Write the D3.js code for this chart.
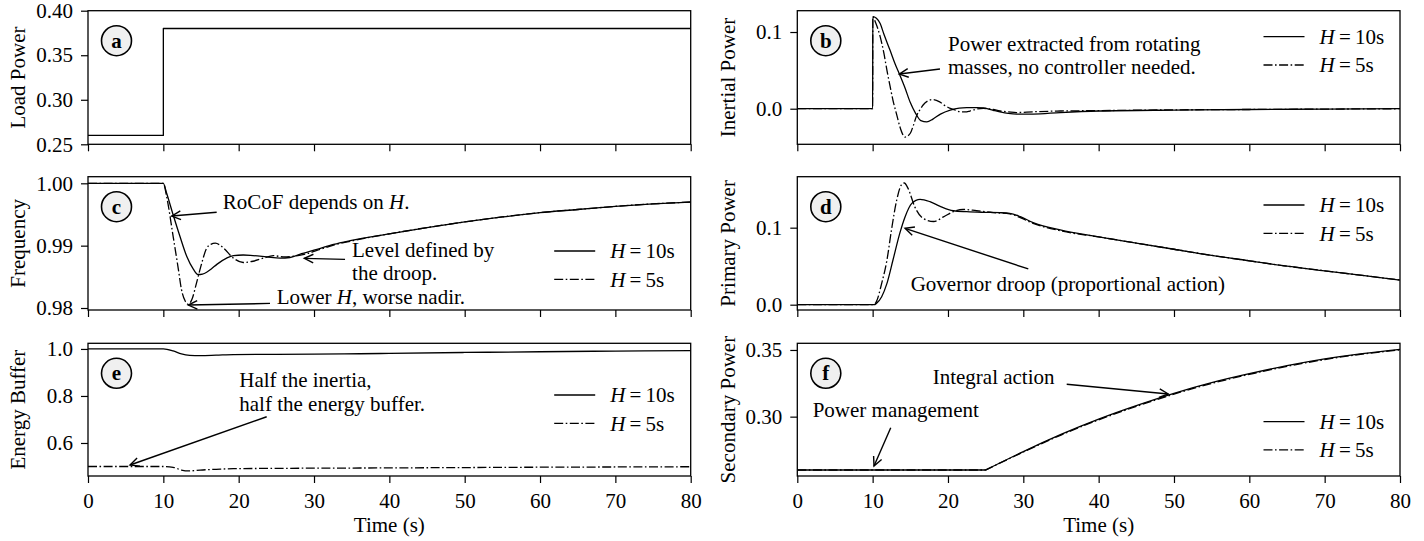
<!DOCTYPE html>
<html><head><meta charset="utf-8">
<script src="https://cdn.jsdelivr.net/npm/d3@7"></script>
<style>body{margin:0;background:#fff;}</style></head><body>
<svg id="chart" width="1424" height="541"></svg>
<script>
// ---------------- DATA ----------------
const timeTicks = [0,10,20,30,40,50,60,70,80];
const seriesNames = ["H=10s","H=5s"];

// (a) Load power
const loadT = [0,10,10,80];
const loadP = [0.26,0.26,0.38,0.38];
const loadTicks = [0.25,0.30,0.35,0.40];

// (b) Inertial power
const inertT10 = [0,10,10.02,10.5,11,11.5,12.3,13,13.6,14.3,15,15.7,16.4,17.2,18,19,20.3,21.5,22.5,23.8,24.7,26,26.9,28,29.1,31.3,34.9,40,50,60,70,80];
const inertP10 = [0,0,0.120,0.118,0.111,0.097,0.0765,0.058,0.044,0.027,0.008,-0.006,-0.0155,-0.0172,-0.0135,-0.007,-0.0017,0.0008,0.0013,0.0014,0.001,-0.002,-0.004,-0.006,-0.007,-0.007,-0.005,-0.003,-0.0018,-0.001,-0.0005,0];
const inertT5 = [0,10,10.02,10.4,11,11.5,11.9,12.3,12.7,13.2,13.6,14.3,15,15.4,15.8,16.3,16.7,17.3,18,18.9,19.6,20.3,21,21.6,22.3,22.9,23.8,24.7,26,26.9,28,29.1,31.3,34.9,40,50,60,70,80];
const inertP5 = [0,0,0.12,0.112,0.094,0.072,0.05,0.030,0.011,-0.008,-0.023,-0.037,-0.032,-0.022,-0.010,-0.001,0.0048,0.010,0.012,0.009,0.004,0.0004,-0.002,-0.004,-0.0042,-0.003,-0.0005,0.0004,-0.001,-0.003,-0.004,-0.005,-0.004,-0.003,-0.0025,-0.0015,-0.001,-0.0005,0];
const inertTicks = [0.0,0.1];

// (c) Frequency
const freqT10 = [0,10,10.44,11.3,12.2,13.1,14.0,14.6,15.2,15.75,16.4,17.1,18.4,19.3,20.6,21.9,23.7,25.5,26.8,28.1,30.4,32.6,34.8,40,45,50,55,60,65,70,75,80];
const freqF10 = [1,1,0.9984,0.99495,0.9915,0.9883,0.9862,0.98537,0.98545,0.98574,0.9863,0.987,0.988,0.9884,0.9885,0.9884,0.9882,0.988,0.9881,0.9886,0.9894,0.9902,0.9908,0.9919,0.9929,0.9938,0.9946,0.9953,0.9958,0.9963,0.9967,0.9970];
const freqT5 = [0,10,10.44,11.3,12.0,12.4,12.9,13.3,13.8,14.4,15.1,15.75,16.3,16.9,17.5,18.0,19.3,20.6,21.9,23.3,24.6,25.9,27.3,29.0,30.8,32.6,34.8,40,45,50,55,60,65,70,75,80];
const freqF5 = [1,1,0.99787,0.9915,0.98617,0.9830,0.98112,0.98059,0.9814,0.9840,0.9872,0.9896,0.9902,0.9904,0.9901,0.9896,0.9880,0.9873,0.9875,0.9880,0.9884,0.9882,0.9883,0.9887,0.9894,0.9901,0.9907,0.9919,0.9929,0.9938,0.9946,0.9953,0.9958,0.9963,0.9967,0.9970];
const freqTicks = [0.98,0.99,1.00];

// (d) Primary power
const primT10 = [0,10.2,10.5,11.2,11.9,12.7,13.6,14.3,15.2,16.3,17.6,18.9,20.7,22.5,24.7,26.9,28.2,29.6,31.3,34.9,40,45,50,55,60,65,70,75,80];
const primP10 = [0,0,0.0017,0.0104,0.0277,0.058,0.0926,0.114,0.1316,0.1368,0.1338,0.128,0.122,0.1208,0.12,0.1195,0.1186,0.1143,0.1065,0.097,0.088,0.080,0.072,0.064,0.057,0.050,0.044,0.038,0.032];
const primT5 = [0,10.1,10.5,11.2,11.9,12.5,13.2,13.8,14.2,14.7,15.6,16.7,18.1,19.4,20.7,22.0,23.8,26.0,28.2,29.6,31.3,34.9,40,45,50,55,60,65,70,75,80];
const primP5 = [0,0,0.004,0.0277,0.058,0.097,0.136,0.1554,0.158,0.151,0.127,0.112,0.108,0.114,0.1208,0.1238,0.122,0.1195,0.118,0.113,0.1056,0.096,0.088,0.080,0.072,0.064,0.057,0.050,0.044,0.038,0.032];
const primTicks = [0.0,0.1];

// (e) Energy buffer
const energyT10 = [0,10,11.3,12.4,13.5,14.9,17,19.3,25,30,36.1,40,50,60,70,80];
const energyE10 = [1,1,0.9915,0.979,0.973,0.9716,0.9735,0.976,0.977,0.978,0.9795,0.981,0.985,0.988,0.991,0.993];
const energyT5 = [0,10,11.3,12.4,13.3,14.9,17,19.3,25,30,36.1,50,60,70,80];
const energyE5 = [0.5,0.5,0.4965,0.485,0.481,0.485,0.488,0.4908,0.492,0.493,0.4936,0.4955,0.497,0.498,0.499];
const energyTicks = [0.6,0.8,1.0];

// (f) Secondary power
const secT = [0,25,30,35,40,45,50,55,60,65,70,75,80];
const secP10 = [0.26,0.26,0.2738,0.2867,0.2982,0.3083,0.3175,0.3255,0.3322,0.3382,0.3433,0.3473,0.3505];
const secP5 = [0.26,0.26,0.2735,0.2862,0.2976,0.3077,0.3169,0.3249,0.3317,0.3377,0.3428,0.3469,0.3500];
const secTicks = [0.30,0.35];

// ---------------- LAYOUT / CONFIG ----------------
const FONT = "Liberation Serif";
const cols = [{x0:88,x1:690.7},{x0:797.3,x1:1400}];
const rows = [{y0:10.7,y1:144.3},{y0:176.7,y1:310},{y0:343.3,y1:476}];
const FS = 21;
const LW = 1.3;
const DASHDOT = "9,2.5,1.6,2.5";

const panels = [
  {key:"a",col:0,row:0,label:"Load Power",domain:[0.25,0.40],ticks:loadTicks,fmt:".2f",
   series:[{t:loadT,v:loadP,dash:null,linear:true}],legendY:null},
  {key:"b",col:1,row:0,label:"Inertial Power",domain:[-0.0464,0.1278],ticks:inertTicks,fmt:".1f",
   series:[{t:inertT10,v:inertP10,dash:null},{t:inertT5,v:inertP5,dash:DASHDOT}],legendY:26},
  {key:"c",col:0,row:1,label:"Frequency",domain:[0.97968,1.00106],ticks:freqTicks,fmt:".2f",
   series:[{t:freqT10,v:freqF10,dash:null},{t:freqT5,v:freqF5,dash:DASHDOT}],legendY:74.3},
  {key:"d",col:1,row:1,label:"Primary Power",domain:[-0.0069,0.1662],ticks:primTicks,fmt:".1f",
   series:[{t:primT10,v:primP10,dash:null},{t:primT5,v:primP5,dash:DASHDOT}],legendY:28.3},
  {key:"e",col:0,row:2,label:"Energy Buffer",domain:[0.4596,1.024],ticks:energyTicks,fmt:".1f",
   series:[{t:energyT10,v:energyE10,dash:null},{t:energyT5,v:energyE5,dash:DASHDOT}],legendY:51.7},
  {key:"f",col:1,row:2,label:"Secondary Power",domain:[0.2555,0.355],ticks:secTicks,fmt:".2f",
   series:[{t:secT,v:secP10,dash:null,kneeIdx:1},{t:secT,v:secP5,dash:DASHDOT,kneeIdx:1}],legendY:78.3}
];

// annotations: text block anchored at (tx, ty) = left / vertical middle in data coords
const annotations = [
  {panel:"b",lines:[[{s:"Power extracted from rotating"}],[{s:"masses, no controller needed."}]],tx:20,ty:0.0696,from:[18.94,0.0518],to:[13.54,0.0452]},
  {panel:"c",lines:[[{s:"RoCoF depends on "},{s:"H",i:true},{s:"."}]],tx:17.88,ty:0.99705,from:[17.08,0.99535],to:[11.11,0.99475]},
  {panel:"c",lines:[[{s:"Level defined by"}],[{s:"the droop."}]],tx:35.05,ty:0.98756,from:[34.12,0.9878],to:[28.71,0.98796]},
  {panel:"c",lines:[[{s:"Lower "},{s:"H",i:true},{s:", worse nadir."}]],tx:25.05,ty:0.9818,from:[24.16,0.98074],to:[13.31,0.98047]},
  {panel:"d",lines:[[{s:"Governor droop (proportional action)"}]],tx:15.05,ty:0.0278,from:[30.66,0.0464],to:[14.30,0.0992]},
  {panel:"e",lines:[[{s:"Half the inertia,"}],[{s:"half the energy buffer."}]],tx:20.08,ty:0.8183,from:[23.72,0.7115],to:[5.58,0.5064]},
  {panel:"f",lines:[[{s:"Integral action"}]],tx:17.97,ty:0.3300,from:[35.76,0.3243],to:[49.25,0.3170]},
  {panel:"f",lines:[[{s:"Power management"}]],tx:2.04,ty:0.305,from:[12.4,0.2917],to:[10.18,0.263]}
];

// ---------------- DRAW ----------------
const svg = d3.select("#chart");
const scales = {};

function styleText(sel){ return sel.style("font-family",FONT).style("font-size",FS+"px").attr("fill","#000"); }

panels.forEach((p) => {
  const c = cols[p.col], r = rows[p.row];
  const x = d3.scaleLinear().domain([0,80]).range([c.x0,c.x1]);
  const y = d3.scaleLinear().domain(p.domain).range([r.y1,r.y0]);
  scales[p.key] = {x,y};
  const g = svg.append("g");

  const clipId = "clip"+p.key;
  svg.append("clipPath").attr("id",clipId).append("rect")
    .attr("x",c.x0).attr("y",r.y0-1).attr("width",c.x1-c.x0).attr("height",r.y1-r.y0+2);

  // y axis
  const ya = g.append("g").attr("transform",`translate(${c.x0},0)`)
    .call(d3.axisLeft(y).tickValues(p.ticks).tickFormat(d3.format(p.fmt)).tickSize(7).tickPadding(8));
  ya.attr("font-family",null).attr("font-size",null);
  ya.select(".domain").remove();
  ya.selectAll("line").attr("stroke","#000").attr("stroke-width",1.2);
  styleText(ya.selectAll("text"));

  // x axis
  const xa = g.append("g").attr("transform",`translate(0,${r.y1})`)
    .call(d3.axisBottom(x).tickValues(timeTicks).tickFormat(p.row===2?d3.format("d"):"").tickSize(7).tickPadding(10));
  xa.attr("font-family",null).attr("font-size",null);
  xa.select(".domain").remove();
  xa.selectAll("line").attr("stroke","#000").attr("stroke-width",1.2);
  styleText(xa.selectAll("text"));

  // y label
  styleText(g.append("text"))
    .attr("transform",`translate(${c.x0-70},${(r.y0+r.y1)/2}) rotate(-90)`)
    .attr("text-anchor","middle").attr("dy","0.35em").text(p.label);

  // series
  p.series.forEach(s => {
    const pts = s.t.map((t,i)=>[t,s.v[i]]);
    let d;
    const lin = d3.line().x(q=>x(q[0])).y(q=>y(q[1]));
    if (s.linear) d = lin(pts);
    else if (s.kneeIdx!==undefined) {
      const head = lin(pts.slice(0,s.kneeIdx+1));
      const tail = d3.line().x(q=>x(q[0])).y(q=>y(q[1])).curve(d3.curveNatural)(pts.slice(s.kneeIdx));
      d = head + "L" + tail.slice(1);
    } else d = lin.curve(d3.curveMonotoneX)(pts);
    g.append("path").attr("d",d).attr("fill","none").attr("stroke","#000")
      .attr("stroke-width",LW).attr("stroke-dasharray",s.dash).attr("clip-path",`url(#${clipId})`)
      .attr("stroke-linejoin","round");
  });

  // frame
  g.append("rect").attr("x",c.x0).attr("y",r.y0).attr("width",c.x1-c.x0).attr("height",r.y1-r.y0)
    .attr("fill","none").attr("stroke","#000").attr("stroke-width",1.3);

  // panel label circle
  const cx = c.x0+28.5, cy = r.y0+30;
  g.append("circle").attr("cx",cx).attr("cy",cy).attr("r",15).attr("fill","#f0f0f0")
    .attr("stroke","#000").attr("stroke-width",1.6);
  styleText(g.append("text")).attr("x",cx).attr("y",cy).attr("dy","0.33em").attr("text-anchor","middle")
    .attr("font-weight","bold").text(p.key);

  // legend
  if (p.legendY!==null) {
    const lx0 = c.x1-136.5, lx1 = c.x1-95.5, tx = c.x1-80.5;
    p.series.forEach((s,i)=>{
      const ly = r.y0 + p.legendY + i*28.3;
      g.append("line").attr("x1",lx0).attr("x2",lx1).attr("y1",ly).attr("y2",ly)
        .attr("stroke","#000").attr("stroke-width",LW).attr("stroke-dasharray",s.dash);
      const t = styleText(g.append("text")).attr("x",tx).attr("y",ly).attr("dy","0.35em");
      const nm = seriesNames[i];
      t.append("tspan").attr("font-style","italic").text(nm.slice(0,1));
      t.append("tspan").text("\u2009=\u2009"+nm.slice(2));
    });
  }
});

// x labels
[0,1].forEach(ci=>{
  const c = cols[ci];
  styleText(svg.append("text")).attr("x",(c.x0+c.x1)/2).attr("y",525).attr("dy","0.35em")
    .attr("text-anchor","middle").text("Time (s)");
});

// annotations (multi-line blocks)
annotations.forEach(a=>{
  const {x,y} = scales[a.panel];
  const lh = 23.4;
  const n = a.lines.length;
  const x0 = x(a.tx);
  const yFirst = y(a.ty) - (n-1)/2*lh;
  a.lines.forEach((ln,i)=>{
    const t = styleText(svg.append("text")).attr("x",x0).attr("y",yFirst+i*lh).attr("dy","0.35em");
    ln.forEach(seg=>{
      const sp = t.append("tspan").text(seg.s);
      if (seg.i) sp.attr("font-style","italic");
    });
  });
  const x1 = x(a.from[0]), y1 = y(a.from[1]), x2 = x(a.to[0]), y2 = y(a.to[1]);
  svg.append("line").attr("x1",x1).attr("y1",y1).attr("x2",x2).attr("y2",y2)
    .attr("stroke","#000").attr("stroke-width",1.4);
  const ang = Math.atan2(y2-y1,x2-x1);
  const hl = 10, hw = 0.45;
  const p1 = [x2 - hl*Math.cos(ang-hw), y2 - hl*Math.sin(ang-hw)];
  const p2 = [x2 - hl*Math.cos(ang+hw), y2 - hl*Math.sin(ang+hw)];
  svg.append("path").attr("d",`M${p1[0]},${p1[1]}L${x2},${y2}L${p2[0]},${p2[1]}`)
    .attr("fill","none").attr("stroke","#000").attr("stroke-width",1.4);
});
</script>
</body></html>
